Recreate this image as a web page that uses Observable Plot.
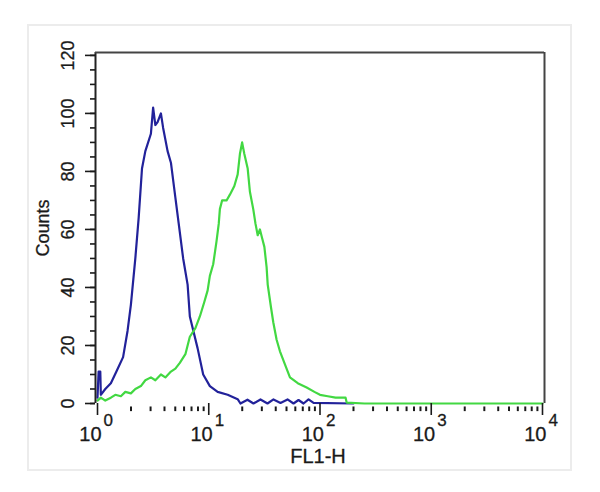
<!DOCTYPE html>
<html><head><meta charset="utf-8">
<script src="https://cdn.jsdelivr.net/npm/d3@7"></script>
<script src="https://cdn.jsdelivr.net/npm/@observablehq/plot@0.6"></script>
<style>body{margin:0;background:#fff;font-family:"Liberation Sans",Arial,sans-serif}</style>
</head><body><div id="chart"></div>
<script>
// FL1-H positions given in decades (log10 of FL1-H), counts
const blueExp = [0.00,0.01,0.025,0.03,0.07,0.12,0.17,0.23,0.27,0.30,0.34,0.37,0.40,0.43,0.48,0.50,0.52,0.54,0.57,0.59,0.63,0.66,0.70,0.73,0.77,0.81,0.83,0.90,0.95,1.01,1.08,1.17,1.26,1.285,1.348,1.402,1.465,1.528,1.582,1.645,1.708,1.762,1.807,1.852,1.897,1.942,2.30];
const blueCount = [2,11,11,3,5,7,11,16,25,34,50,64,81,87,93,102,96,97,100,95,87,83,71,62,50,41,30,19,10,6,4,3,1.5,0,1.3,0,1.4,0,1.4,0.2,1.4,0,1.2,0,1.4,0.2,0];
const greenExp = [0.00,0.03,0.07,0.12,0.16,0.21,0.25,0.30,0.34,0.39,0.43,0.48,0.52,0.57,0.61,0.66,0.70,0.74,0.79,0.83,0.88,0.92,0.96,0.99,1.01,1.04,1.07,1.09,1.10,1.12,1.16,1.19,1.23,1.26,1.28,1.30,1.32,1.35,1.37,1.40,1.42,1.44,1.46,1.48,1.50,1.52,1.53,1.56,1.58,1.61,1.64,1.69,1.73,1.80,1.88,1.95,2.00,2.07,2.14,2.23,2.24,2.40,4.00];
const greenCount = [1,2,1,2,3,2.5,4,3.5,5,6,8,9,8,10,9,11,12,14,17,23,26,30,35,39,44,48,56,62,67,70,70,72,75,79,86,90,86,81,73,67,62,58,60,57,54,47,41,33,28,22,18,13,9,7,5.5,4,3,2.5,2,2,0.3,0,0];

const yTicks = [0,20,40,60,80,100,120];
const yTickLabels = ["0","20","40","60","80","100","120"];
const yMinor = [0,5,10,15,20,25,30,35,40,45,50,55,60,65,70,75,80,85,90,95,100,105,110,115,120];
const xDecades = [1,10,100,1000,10000];
const xBaseLabel = "10";
const xExpLabels = ["0","1","2","3","4"];
const xMinor = [2,3,4,5,6,7,8,9,20,30,40,50,60,70,80,90,200,300,400,500,600,700,800,900,2000,3000,4000,5000,6000,7000,8000,9000];

const blue = blueExp.map((e,i)=>({fl:10**e, count:blueCount[i]}));
const green = greenExp.map((e,i)=>({fl:10**e, count:greenCount[i]}));

const xmin = 10**-0.018, xmax = 10**4.018;
const ink = "#1a1a1a";
const txt = {fill:ink, stroke:ink, strokeWidth:0.3};

const plot = Plot.plot({
  width:600, height:492,
  marginLeft:95, marginRight:56, marginTop:52, marginBottom:89,
  style:{fontFamily:'"Liberation Sans",Arial,sans-serif', background:"#fff", color:ink},
  x:{type:"log", domain:[xmin,xmax], axis:null},
  y:{domain:[0,121], axis:null},
  marks:[
    Plot.line(blue,{x:"fl", y:"count", stroke:"#22229a", strokeWidth:2.2}),
    Plot.line(green,{x:"fl", y:"count", stroke:"#42d842", strokeWidth:2.2}),
    Plot.ruleX([xmin],{y1:0, y2:121, stroke:"#222", strokeWidth:2}),
    Plot.ruleY([121],{x1:xmin, x2:xmax, stroke:"#444", strokeWidth:2}),
    Plot.ruleX([xmax],{y1:0, y2:121, stroke:"#444", strokeWidth:2}),
    Plot.axisY({ticks:yMinor, tickSize:5, tickFormat:()=>"", label:null, stroke:ink, strokeWidth:1.6}),
    Plot.axisY({ticks:yTicks, tickSize:10, tickFormat:()=>"", label:null, stroke:ink, strokeWidth:1.6}),
    Plot.text(yTicks,{frameAnchor:"left", y:d=>d, text:(d,i)=>yTickLabels[i], rotate:-90, textAnchor:"middle", lineAnchor:"middle", dx:-27, fontSize:18, ...txt}),
    Plot.axisX({ticks:xDecades, tickSize:12, tickFormat:()=>"", label:null, stroke:ink, strokeWidth:1.6}),
    Plot.ruleX(xMinor,{y1:-1.2, y2:-2.8, stroke:ink, strokeWidth:2}),
    Plot.text(xDecades,{x:d=>d, frameAnchor:"bottom", text:()=>xBaseLabel, textAnchor:"end", lineAnchor:"bottom", dx:4, dy:37, fontSize:20, ...txt}),
    Plot.text(xDecades,{x:d=>d, frameAnchor:"bottom", text:(d,i)=>xExpLabels[i], textAnchor:"start", lineAnchor:"bottom", dx:6, dy:22, fontSize:17, ...txt}),
    Plot.text(["FL1-H"],{frameAnchor:"bottom", textAnchor:"middle", lineAnchor:"bottom", dx:-2, dy:59, fontSize:20, ...txt}),
    Plot.text(["Counts"],{frameAnchor:"left", rotate:-90, textAnchor:"middle", lineAnchor:"middle", dx:-52, fontSize:18, ...txt})
  ]
});
d3.select(plot).insert("rect",":first-child")
  .attr("x",28).attr("y",25).attr("width",543).attr("height",445)
  .attr("fill","none").attr("stroke","#ececec").attr("stroke-width",2);
document.getElementById("chart").append(plot);
</script></body></html>
